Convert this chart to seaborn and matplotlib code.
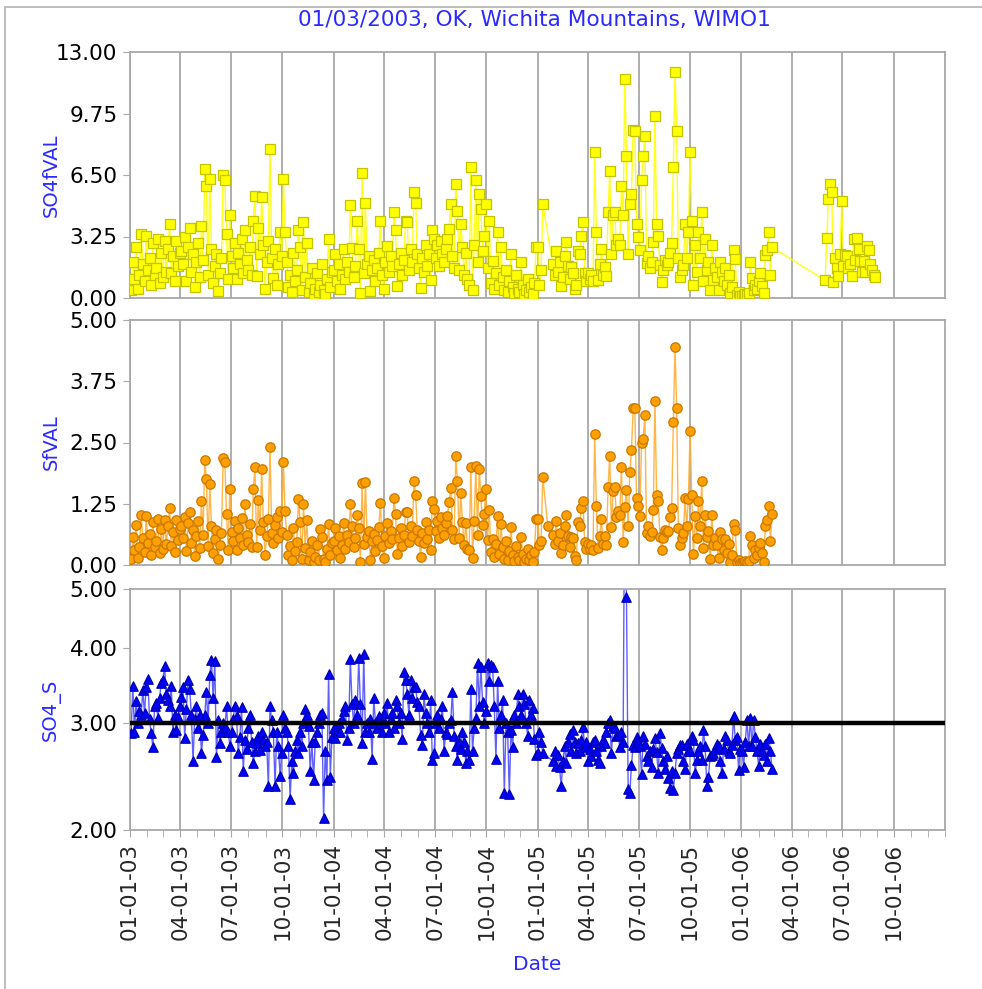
import numpy as np
import pandas as pd
import matplotlib
matplotlib.use("Agg")
import matplotlib.pyplot as plt
import matplotlib.dates as mdates
from matplotlib.ticker import FixedLocator, FormatStrFormatter, NullLocator
from matplotlib.patches import Rectangle
import seaborn as sns

nan = np.nan

# start date of each block of 1-in-3 day samples (quarters), last block = summer 2006 (SO4f only)
block_start = ["2003-01-03", "2003-04-03", "2003-07-02", "2003-10-03", "2004-01-01", "2004-04-03",
               "2004-07-02", "2004-10-03", "2005-01-01", "2005-04-01", "2005-06-30", "2005-10-01",
               "2006-01-02", "2006-05-31"]

# SO4fVAL, one list per block
so4f_val = [
    [0.4, 1.9, 1.0, 2.7, 0.5, 1.2, 3.4, 1.8, 0.9, 3.3, 1.5, 2.1, 0.7, 2.9, 1.2, 1.6, 3.1, 0.8, 2.4, 1.1,
     3.0, 1.4, 2.6, 3.9, 1.3, 2.2, 0.9, 3.0, 1.7, 2.4],
    [2.5, 1.8, 3.2, 0.9, 2.7, 3.7, 1.4, 2.3, 0.6, 1.9, 2.9, 1.1, 3.8, 2.0, 6.8, 5.9, 1.2, 6.3, 2.6, 0.8,
     1.7, 2.3, 0.35, 1.3, 2.1, 6.5, 6.25, 3.4, 1.0, 4.4],
    [2.2, 1.6, 2.9, 1.0, 2.4, 1.8, 3.1, 1.3, 3.6, 2.0, 1.5, 2.7, 1.2, 4.07, 5.4, 1.15, 3.7, 2.3, 5.35, 2.8,
     0.5, 1.9, 3.0, 7.9, 2.1, 1.06, 2.6, 0.7, 1.8, 3.5, 2.2],
    [6.3, 3.5, 1.9, 0.6, 1.2, 0.3, 2.4, 0.9, 1.5, 3.6, 2.7, 0.4, 4.0, 1.1, 2.9, 0.3, 0.8, 1.6, 0.2, 0.5,
     1.3, 0.3, 0.7, 1.8, 0.4, 0.2, 1.0, 3.1, 0.6, 1.4],
    [1.5, 2.3, 0.9, 1.8, 0.48, 1.2, 2.6, 1.0, 1.9, 1.4, 4.9, 2.65, 1.1, 1.7, 4.05, 2.6, 0.27, 6.6, 1.3, 5.0,
     1.8, 2.2, 0.35, 1.5, 2.0, 0.9, 1.6, 2.4, 4.05, 1.2, 0.48],
    [1.9, 2.75, 1.4, 2.2, 1.7, 4.55, 3.6, 0.65, 1.8, 2.4, 1.2, 2.0, 4.05, 4.0, 1.5, 2.6, 1.9, 5.6, 5.0, 2.3,
     1.6, 0.53, 2.1, 1.4, 2.8, 1.7, 2.3, 0.94, 3.6, 3.1],
    [2.1, 2.8, 1.7, 3.0, 2.3, 1.9, 2.6, 3.1, 3.66, 4.97, 2.2, 1.6, 6.0, 4.6, 1.5, 3.9, 2.7, 1.2, 2.4, 1.0,
     0.7, 6.9, 0.44, 2.8, 6.25, 1.9, 5.5, 4.7, 2.5, 3.3, 4.95],
    [1.6, 4.07, 0.8, 1.95, 0.5, 1.3, 3.5, 0.7, 2.7, 1.1, 0.4, 1.5, 0.3, 0.9, 2.3, 0.6, 0.25, 1.2, 0.5, 0.3,
     1.9, 0.7, 0.2, 0.4, 1.0, 0.3, 0.6, 0.2, 0.8, 2.7],
    [2.7, 0.67, 1.5, 4.95, nan, nan, nan, nan, nan, 1.8, 1.2, 2.5, 1.4, 1.9, 0.62, 1.1, 2.2, 2.95, 1.7, 1.0,
     1.63, 1.3, 0.5, 0.67, 2.46, 2.3, 3.27, 4.0, 1.33, 0.9],
    [1.3, 1.0, 1.2, 0.88, 7.7, 3.5, 0.94, 1.8, 2.6, 1.2, 1.63, 1.15, 4.55, 6.7, 2.3, 4.4, 4.55, 2.78, 3.1, 2.78,
     5.9, 4.4, 11.55, 7.5, 2.3, 4.95, 5.5, 8.9, 8.8, 3.9],
    [3.24, 2.53, 6.25, 7.5, 8.55, 1.86, 2.2, 1.6, 1.9, 2.95, 9.6, 3.9, 3.27, 1.73, 0.83, 1.5, 2.0, 1.72, 1.9, 2.4,
     2.9, 6.9, 11.95, 8.8, 2.12, 1.1, 1.5, 1.72, 3.9, 2.12, 3.5],
    [7.7, 4.07, 0.67, 2.78, 1.4, 3.5, 2.1, 4.55, 0.88, 3.1, 1.5, 1.9, 0.4, 2.78, 0.97, 1.6, 1.1, 0.44, 1.9, 1.4,
     0.88, 1.56, 0.7, 1.2, 0.27, 0.6, 2.53, 2.04, 0.18, 0.3, 0.09],
    [0.1, 0.18, 0.2, 0.15, 0.27, 1.9, 1.06, 0.4, 0.7, 0.5, 0.88, 1.3, 0.62, 0.27, 2.25, 2.53, 3.5, 1.24, 2.67],
    [0.94, 3.15, 5.25, 6.0, 5.6, 0.83, 2.1, 1.6, 1.15, 2.3, 5.1, 1.7, 2.25, 2.2, 1.6, 1.8, 1.15, 3.1, 2.0, 3.15,
     2.57, 1.95, 1.4, 1.95, 1.36, 2.74, 2.53, 1.8, 1.5, 1.2, 1.1],
]

# SfVAL
sf_val = [
    [0.12, 0.57, 0.3, 0.82, 0.15, 0.36, 1.03, 0.55, 0.27, 1.0, 0.45, 0.64, 0.21, 0.88, 0.36, 0.48, 0.94, 0.24, 0.73, 0.33,
     0.91, 0.42, 0.79, 1.16, 0.39, 0.67, 0.27, 0.91, 0.52, 0.73],
    [0.8, 0.56, 0.98, 0.28, 0.85, 1.09, 0.44, 0.72, 0.19, 0.6, 0.9, 0.35, 1.3, 0.62, 2.14, 1.75, 0.38, 1.65, 0.8, 0.25,
     0.53, 0.72, 0.12, 0.4, 0.66, 2.19, 2.1, 1.05, 0.31, 1.55],
    [0.68, 0.5, 0.9, 0.31, 0.75, 0.56, 0.96, 0.4, 1.24, 0.62, 0.47, 0.84, 0.37, 1.56, 1.99, 0.37, 1.33, 0.71, 1.96, 0.87,
     0.2, 0.59, 0.93, 2.41, 0.65, 0.44, 0.81, 0.97, 0.56, 1.1, 0.68],
    [2.11, 1.1, 0.61, 0.2, 0.38, 0.1, 0.75, 0.28, 0.47, 1.35, 0.87, 0.13, 1.24, 0.35, 0.92, 0.1, 0.26, 0.5, 0.07, 0.16,
     0.41, 0.1, 0.73, 0.57, 0.13, 0.07, 0.32, 0.83, 0.2, 0.45],
    [0.5, 0.75, 0.3, 0.6, 0.14, 0.4, 0.85, 0.33, 0.62, 0.46, 1.24, 0.8, 0.36, 0.56, 1.02, 0.75, 0.07, 1.67, 0.42, 1.7,
     0.58, 0.7, 0.1, 0.48, 0.63, 0.29, 0.52, 0.78, 1.27, 0.38, 0.14],
    [0.6, 0.85, 0.44, 0.7, 0.53, 1.37, 1.05, 0.22, 0.56, 0.75, 0.38, 0.62, 1.09, 1.09, 0.47, 0.8, 0.6, 1.71, 1.43, 0.72,
     0.5, 0.17, 0.66, 0.44, 0.88, 0.53, 0.72, 0.31, 1.3, 1.14],
    [0.7, 0.9, 0.56, 0.98, 0.75, 0.62, 0.85, 1.0, 1.28, 1.58, 0.72, 0.53, 2.23, 1.71, 0.56, 1.46, 0.88, 0.4, 0.85, 0.33,
     0.31, 1.99, 0.15, 0.9, 2.02, 0.62, 1.96, 1.41, 0.82, 1.05, 1.55],
    [0.52, 1.12, 0.26, 0.54, 0.16, 0.42, 0.99, 0.23, 0.83, 0.36, 0.13, 0.48, 0.1, 0.29, 0.78, 0.2, 0.08, 0.39, 0.16, 0.1,
     0.58, 0.23, 0.07, 0.13, 0.32, 0.1, 0.2, 0.07, 0.26, 0.94],
    [0.94, 0.41, 0.5, 1.8, nan, nan, 0.8, nan, nan, 0.62, 0.42, 0.9, 0.48, 0.65, 0.24, 0.4, 0.8, 1.02, 0.6, 0.36,
     0.58, 0.56, 0.18, 0.1, 0.87, 0.8, 1.16, 1.31, 0.46, 0.32],
    [0.42, 0.33, 0.4, 0.31, 2.67, 1.21, 0.34, 0.6, 0.94, 0.42, 0.6, 0.4, 1.6, 2.23, 0.78, 1.51, 1.59, 0.98, 1.1, 1.02,
     2.0, 0.46, 1.19, 1.53, 0.8, 1.89, 2.35, 3.2, 3.2, 1.37],
    [1.2, 0.99, 2.5, 2.57, 3.07, 0.65, 0.8, 0.6, 0.68, 1.12, 3.35, 1.43, 1.31, 0.58, 0.31, 0.55, 0.72, 0.68, 0.7, 0.97,
     1.16, 2.91, 4.44, 3.21, 0.75, 0.41, 0.55, 0.65, 1.37, 0.8, 1.35],
    [2.73, 1.43, 0.22, 0.99, 0.56, 1.31, 0.8, 1.71, 0.34, 1.02, 0.58, 0.7, 0.12, 1.02, 0.41, 0.56, 0.4, 0.15, 0.68, 0.54,
     0.31, 0.53, 0.24, 0.42, 0.07, 0.2, 0.83, 0.71, 0.07, 0.1, 0.05],
    [0.05, 0.07, 0.08, 0.06, 0.08, 0.6, 0.41, 0.15, 0.31, 0.2, 0.34, 0.45, 0.25, 0.07, 0.8, 0.92, 1.21, 0.5, 1.05],
]

# SO4_S (ratio, log axis)
so4_s = [
    [2.89, 3.46, 2.9, 3.27, 3.0, 3.15, 3.1, 3.4, 3.12, 3.45, 3.55, 3.05, 2.89, 2.74, 3.2, 3.24, 3.06, 3.3, 3.5, 3.54,
     3.73, 3.35, 3.28, 3.2, 3.46, 2.9, 3.1, 2.92, 3.07, 3.2],
    [3.32, 3.45, 2.84, 3.17, 3.54, 3.42, 3.1, 2.6, 3.05, 3.2, 2.95, 3.1, 2.68, 2.87, 3.1, 3.38, 3.0, 3.6, 3.82, 3.3,
     3.8, 2.64, 3.04, 2.78, 2.9, 3.0, 2.95, 3.2, 2.9, 2.75],
    [2.9, 3.05, 3.21, 3.08, 2.68, 2.85, 3.19, 2.5, 2.82, 2.72, 2.95, 3.1, 2.8, 2.58, 2.7, 2.78, 2.86, 2.71, 2.9, 2.82,
     2.75, 2.8, 2.36, 3.2, 3.04, 2.9, 2.36, 2.9, 2.75, 2.46, 2.68],
    [3.1, 2.95, 2.9, 2.75, 2.25, 2.6, 2.48, 2.7, 2.82, 2.68, 2.9, 2.75, 3.0, 3.17, 3.1, 2.97, 2.5, 2.8, 2.42, 2.8,
     2.9, 3.0, 3.1, 3.12, 2.09, 2.7, 2.42, 3.62, 2.45, 2.85],
    [2.95, 2.84, 2.9, 3.0, 2.9, 3.05, 3.14, 3.2, 2.82, 2.95, 3.83, 3.23, 3.0, 3.28, 3.1, 3.85, 3.23, 2.78, 3.9, 2.9,
     3.0, 2.9, 3.05, 2.62, 3.3, 3.0, 2.95, 3.08, 3.0, 2.9, 3.12],
    [3.0, 3.24, 2.9, 3.05, 3.12, 2.95, 3.28, 3.2, 3.0, 3.12, 2.83, 3.65, 3.54, 3.36, 3.1, 3.54, 3.3, 3.45, 3.45, 3.25,
     3.2, 2.87, 2.76, 3.35, 3.12, 3.0, 2.9, 3.28, 2.61, 2.68],
    [3.0, 3.1, 2.95, 3.05, 3.2, 2.7, 2.9, 2.88, 3.0, 3.04, 3.38, 2.86, 2.75, 2.61, 2.8, 2.72, 2.9, 2.8, 2.58, 2.7,
     2.61, 3.42, 2.7, 2.95, 3.06, 3.77, 3.2, 3.72, 3.25, 3.0, 3.14],
    [3.77, 3.52, 3.75, 3.72, 3.2, 2.62, 3.52, 2.95, 3.1, 3.28, 2.3, 3.0, 2.9, 2.29, 2.93, 2.74, 3.1, 3.0, 3.35, 3.2,
     3.1, 3.35, 3.23, 3.0, 2.86, 3.28, 3.1, 3.18, 2.83, 2.66],
    [2.68, 2.9, 2.8, 2.68, nan, nan, nan, nan, nan, 2.6, 2.7, 2.55, 2.66, 2.54, 2.36, 2.6, 2.75, 2.58, 2.8, 2.88,
     2.7, 2.92, 2.8, 2.68, 2.78, 2.7, 2.82, 2.96, 2.74, 2.8],
    [2.6, 2.72, 2.65, 2.8, 2.82, 2.7, 2.61, 2.58, 2.75, 2.82, 2.78, 2.9, 3.0, 3.04, 2.68, 2.97, 2.95, 2.86, 2.87, 2.74,
     2.9, 2.8, 8.5, 4.85, 2.34, 2.3, 2.56, 2.76, 2.74, 2.85],
    [2.8, 2.75, 2.47, 2.86, 2.77, 2.65, 2.6, 2.7, 2.54, 2.72, 2.84, 2.69, 2.48, 2.89, 2.73, 2.6, 2.52, 2.65, 2.44, 2.35,
     2.5, 2.33, 2.48, 2.68, 2.72, 2.76, 2.76, 2.6, 2.52, 2.77, 2.7],
    [2.7, 2.86, 2.82, 2.48, 2.61, 2.7, 2.75, 2.61, 2.92, 2.75, 2.36, 2.45, 2.65, 2.66, 2.68, 2.72, 2.77, 2.75, 2.6, 2.48,
     2.72, 2.86, 2.82, 2.7, 2.68, 2.76, 3.08, 2.82, 2.85, 2.51, 2.72],
    [2.7, 2.54, 2.8, 3.04, 2.75, 3.06, 2.75, 3.04, 2.85, 2.7, 2.55, 2.77, 2.7, 2.66, 2.77, 2.6, 2.84, 2.7, 2.52],
]

title = "01/03/2003, OK, Wichita Mountains, WIMO1"
y_labels = ["SO4fVAL", "SfVAL", "SO4_S"]
y_ticks = [[0, 3.25, 6.5, 9.75, 13], [0, 1.25, 2.5, 3.75, 5], [2, 3, 4, 5]]
ref_line = 3.0  # reference level in the SO4_S panel
quarter_ticks = pd.date_range("2003-01-01", "2006-10-01", freq="QS")


def make_series(starts, blocks):
    frames = []
    for start, vals in zip(starts, blocks):  # each block sampled every 3 days
        d = pd.date_range(start, periods=len(vals), freq="3D")
        frames.append(pd.DataFrame({"date": d, "value": vals}))
    return pd.concat(frames).dropna().reset_index(drop=True)


sns.set_style("white")
plt.rcParams["font.family"] = ["DejaVu Sans"]

fig = plt.figure(figsize=(9.82, 9.89), dpi=100)
W, H = 982.0, 989.0
# panel boxes in pixels (top, bottom)
boxes = [(52, 298), (320, 565), (589, 830)]
axes = []
for top, bot in boxes:
    axes.append(fig.add_axes([130 / W, 1 - bot / H, 815 / W, (bot - top) / H]))

series = [make_series(block_start, so4f_val), make_series(block_start, sf_val), make_series(block_start, so4_s)]
styles = [  # line colour, face, edge, marker
    ("#ffff00", "#ffff00", "#c4c400", "s"),
    ("#ffad33", "#ffa000", "#c87800", "o"),
    ("#4d4dff", "#0000ff", "#0000b0", "^"),
]
blue = "#2a2aff"
grey = "#a8a8a8"

for i, (ax, df, st) in enumerate(zip(axes, series, styles)):
    lc, fc, ec, mk = st
    sns.lineplot(data=df, x="date", y="value", ax=ax, color=lc, lw=1.0, sort=False, estimator=None, alpha=0.9, zorder=2)
    sns.scatterplot(data=df, x="date", y="value", ax=ax, marker=mk, s=46, color=fc, edgecolor=ec, linewidth=0.9, zorder=3)
    ax.set_xlim(pd.Timestamp("2003-01-01"), pd.Timestamp("2007-01-01"))
    if i == 2:
        ax.set_yscale("log")
        ax.axhline(ref_line, color="black", lw=3.2, zorder=4)
    ax.set_ylim(y_ticks[i][0], y_ticks[i][-1])
    ax.yaxis.set_major_locator(FixedLocator(y_ticks[i]))
    ax.yaxis.set_minor_locator(NullLocator())
    ax.yaxis.set_major_formatter(FormatStrFormatter("%.2f"))
    ax.xaxis.set_major_locator(FixedLocator(mdates.date2num(quarter_ticks)))
    ax.xaxis.set_minor_locator(mdates.MonthLocator())
    ax.grid(axis="x", which="major", color=grey, lw=1.3)
    ax.set_axisbelow(True)
    for sp in ax.spines.values():
        sp.set_color(grey)
        sp.set_linewidth(1.3)
    ax.tick_params(axis="y", which="both", left=True, length=5, color=grey, labelsize=15.5, labelcolor="black", pad=4)
    ax.set_ylabel(y_labels[i], color=blue, fontsize=14)
    ax.yaxis.set_label_coords(-0.085, 0.5)
    if i < 2:
        ax.tick_params(axis="x", which="both", bottom=False, labelbottom=False)
        ax.set_xlabel("")
    else:
        ax.xaxis.set_major_formatter(mdates.DateFormatter("%m-%d-%y"))
        ax.tick_params(axis="x", which="both", bottom=True, length=5, color=grey, labelsize=15.5, pad=4)
        plt.setp(ax.get_xticklabels(), rotation=90)
        ax.set_xlabel("Date", color=blue, fontsize=14.5)
        ax.xaxis.set_label_coords(0.5, -0.52)

fig.text(534 / W, 1 - 20 / H, title, ha="center", va="center", color=blue, fontsize=15.6)

# thin grey frame round the chart area
fig.add_artist(Rectangle((4.5 / W, -0.02), 1.2, 1 - 7 / H + 0.02, transform=fig.transFigure,
                         fill=False, edgecolor="#b0b0b0", lw=1.2))

fig.savefig("out.png", dpi=100)
